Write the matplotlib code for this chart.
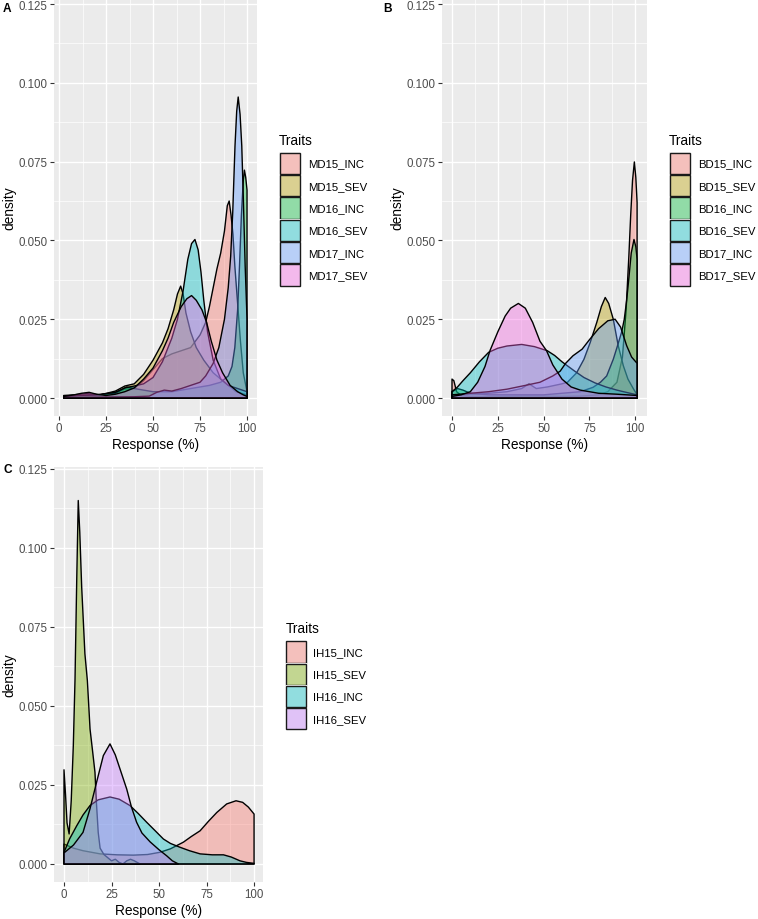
import matplotlib
matplotlib.use("Agg")
import matplotlib.pyplot as plt
import matplotlib.colors as mcolors
from matplotlib.patches import Rectangle

plt.rcParams['font.family'] = ['Liberation Sans', 'DejaVu Sans']

W, H, DPI = 758, 920, 100

# ---------------- Panel A (MD traits) ----------------
A_NAMES = ["MD15_INC", "MD15_SEV", "MD16_INC", "MD16_SEV", "MD17_INC", "MD17_SEV"]
A_COLORS = ["#F8766D", "#B79F00", "#00BA38", "#00BFC4", "#619CFF", "#F564E3"]

MD15_INC_X = [2.5, 8, 15, 22, 30, 35, 40, 45, 50, 55, 60, 65, 70, 75, 78, 80, 82, 84, 86, 88, 89.5, 90.5, 91.5, 92.5, 93.5, 95, 96.5, 98, 100]
MD15_INC_Y = [0.0005, 0.0008, 0.0008, 0.001, 0.0018, 0.0028, 0.003, 0.0055, 0.009, 0.0125, 0.014, 0.015, 0.016, 0.02, 0.024, 0.029, 0.035, 0.041, 0.046, 0.053, 0.061, 0.0625, 0.058, 0.052, 0.042, 0.030, 0.018, 0.008, 0.002]

MD15_SEV_X = [2.5, 8, 15, 22, 30, 35, 40, 45, 50, 55, 58, 61, 63, 64.7, 66, 67.5, 70, 73, 77, 82, 88, 94, 100]
MD15_SEV_Y = [0.0008, 0.001, 0.0014, 0.001, 0.0022, 0.0038, 0.0045, 0.0075, 0.012, 0.0175, 0.022, 0.028, 0.033, 0.0355, 0.033, 0.027, 0.021, 0.016, 0.012, 0.008, 0.005, 0.002, 0.001]

MD16_INC_X = [2.5, 10, 20, 30, 36, 40, 50, 60, 70, 80, 86, 90, 92, 93.5, 95, 96, 97, 98, 98.6, 99.3, 100]
MD16_INC_Y = [0.0005, 0.0008, 0.001, 0.0015, 0.0035, 0.003, 0.002, 0.002, 0.003, 0.004, 0.005, 0.007, 0.01, 0.016, 0.028, 0.042, 0.058, 0.069, 0.0723, 0.070, 0.066]

MD16_SEV_X = [2.5, 10, 20, 30, 35, 40, 45, 50, 55, 60, 63, 66, 68.5, 70.5, 72.3, 74, 75.5, 77, 79, 82, 86, 90, 95, 100]
MD16_SEV_Y = [0.0005, 0.0008, 0.001, 0.0018, 0.0032, 0.0038, 0.0045, 0.0065, 0.0115, 0.019, 0.025, 0.034, 0.044, 0.049, 0.0503, 0.047, 0.04, 0.031, 0.021, 0.012, 0.006, 0.004, 0.003, 0.002]

MD17_INC_X = [2.5, 20, 40, 48, 52, 56, 60, 65, 70, 75, 78, 82, 85, 88, 90, 91.3, 92.4, 93.6, 94.5, 95.3, 96.3, 97.2, 98, 99, 100]
MD17_INC_Y = [0.0002, 0.0003, 0.0004, 0.0006, 0.0018, 0.0025, 0.0022, 0.003, 0.004, 0.005, 0.007, 0.011, 0.016, 0.025, 0.035, 0.045, 0.059, 0.080, 0.091, 0.0955, 0.090, 0.080, 0.064, 0.042, 0.025]

MD17_SEV_X = [2.5, 8, 12, 16, 20, 25, 30, 35, 40, 45, 50, 55, 58, 61, 65, 68, 70.5, 73, 76, 78.5, 81, 84, 87, 91, 95, 98, 100]
MD17_SEV_Y = [0.0005, 0.001, 0.0015, 0.0018, 0.0012, 0.0008, 0.0012, 0.002, 0.0032, 0.006, 0.0095, 0.015, 0.019, 0.024, 0.029, 0.0315, 0.0325, 0.031, 0.028, 0.024, 0.018, 0.012, 0.008, 0.004, 0.002, 0.001, 0.0005]

# ---------------- Panel B (BD traits) ----------------
B_NAMES = ["BD15_INC", "BD15_SEV", "BD16_INC", "BD16_SEV", "BD17_INC", "BD17_SEV"]
B_COLORS = A_COLORS

BD15_INC_X = [0, 1, 2.5, 5, 10, 20, 30, 40, 50, 60, 70, 80, 85, 90, 93, 95, 96.5, 97.5, 98.5, 99.5, 100.3, 101]
BD15_INC_Y = [0.006, 0.0055, 0.002, 0.0008, 0.0005, 0.0004, 0.0005, 0.0006, 0.0006, 0.0005, 0.0006, 0.001, 0.002, 0.005, 0.013, 0.028, 0.045, 0.058, 0.069, 0.0749, 0.07, 0.062]

BD15_SEV_X = [0, 5, 10, 20, 30, 38, 42, 46, 52, 56, 60, 63, 68, 72, 75.4, 79, 81.5, 83.6, 85.5, 88, 90.7, 93.5, 96, 98.9, 101]
BD15_SEV_Y = [0.001, 0.001, 0.0012, 0.0015, 0.002, 0.003, 0.0045, 0.003, 0.0035, 0.004, 0.0045, 0.005, 0.008, 0.0123, 0.0176, 0.024, 0.029, 0.0319, 0.030, 0.025, 0.0166, 0.0102, 0.006, 0.003, 0.001]

BD16_INC_X = [0, 3, 6, 10, 20, 30, 40, 50, 60, 70, 77, 81, 84.4, 88, 90, 92.6, 94, 95.3, 96.5, 97.8, 99.3, 100.3, 101]
BD16_INC_Y = [0.002, 0.003, 0.0025, 0.0015, 0.001, 0.001, 0.001, 0.001, 0.0015, 0.002, 0.0034, 0.005, 0.007, 0.0123, 0.016, 0.021, 0.025, 0.031, 0.038, 0.046, 0.0503, 0.048, 0.044]

BD16_SEV_X = [0, 3, 6, 10, 15, 20, 25, 30, 38, 45, 52, 56, 60, 63, 67, 72, 78, 84, 90, 95, 101]
BD16_SEV_Y = [0.002, 0.0035, 0.0055, 0.008, 0.0115, 0.0145, 0.0158, 0.0165, 0.017, 0.0163, 0.015, 0.0135, 0.0115, 0.0102, 0.0085, 0.0065, 0.0048, 0.0035, 0.0025, 0.0018, 0.001]

BD17_INC_X = [0, 10, 20, 30, 40, 48, 55, 59, 62, 66, 71, 75, 80, 85, 89, 92, 95.3, 98, 101]
BD17_INC_Y = [0.001, 0.0015, 0.002, 0.0028, 0.004, 0.005, 0.007, 0.0085, 0.011, 0.0134, 0.0155, 0.0185, 0.022, 0.0245, 0.025, 0.0225, 0.0166, 0.013, 0.011]

BD17_SEV_X = [0, 5, 10, 14, 18, 20.7, 25, 29, 32, 36.2, 40, 44, 48, 51.6, 55, 60, 65, 70, 80, 90, 101]
BD17_SEV_Y = [0.0005, 0.001, 0.002, 0.005, 0.010, 0.015, 0.021, 0.026, 0.0285, 0.030, 0.0285, 0.024, 0.018, 0.015, 0.0105, 0.006, 0.0035, 0.0025, 0.0015, 0.0012, 0.0008]

# ---------------- Panel C (IH traits) ----------------
C_NAMES = ["IH15_INC", "IH15_SEV", "IH16_INC", "IH16_SEV"]
C_COLORS = ["#F8766D", "#7CAE00", "#00BFC4", "#C77CFF"]

IH15_INC_X = [0, 5, 10, 19, 28, 36.5, 44, 50.5, 56, 62.8, 67, 71.6, 76, 80.4, 85.6, 90.5, 94, 97, 100]
IH15_INC_Y = [0.0063, 0.005, 0.0042, 0.0032, 0.0029, 0.0028, 0.003, 0.0037, 0.0048, 0.0069, 0.0087, 0.0105, 0.0135, 0.0163, 0.019, 0.020, 0.0195, 0.018, 0.0158]

IH15_SEV_X = [0, 0.8, 1.6, 2.7, 3.8, 4.9, 5.8, 6.7, 7.5, 8.3, 9.3, 11, 12.3, 13.7, 15.1, 16.3, 17, 18, 19, 21, 23, 25, 27, 29, 31, 33, 35, 37, 40]
IH15_SEV_Y = [0.0298, 0.022, 0.013, 0.0095, 0.02, 0.0374, 0.0585, 0.09, 0.115, 0.105, 0.0877, 0.0665, 0.058, 0.0427, 0.0354, 0.029, 0.02, 0.01, 0.005, 0.003, 0.002, 0.001, 0.0015, 0.0005, 0.0, 0.001, 0.0015, 0.001, 0.0]

IH16_INC_X = [0, 3, 6.7, 10, 13.7, 18, 24.2, 29, 34.7, 39, 43.5, 48, 52.3, 56, 61, 66, 71.6, 78, 83.9, 88, 92.6, 96, 100]
IH16_INC_Y = [0.0037, 0.008, 0.0121, 0.0155, 0.0185, 0.0203, 0.0212, 0.0205, 0.0185, 0.016, 0.0132, 0.0105, 0.0079, 0.0065, 0.0053, 0.0042, 0.0032, 0.0029, 0.0029, 0.0022, 0.001, 0.0005, 0.0002]

IH16_SEV_X = [0, 5, 10, 13.7, 17.2, 20.7, 24.2, 27, 29.5, 33, 35.5, 38.2, 41, 45.3, 50, 54, 57, 60.2]
IH16_SEV_Y = [0.0035, 0.006, 0.01, 0.0175, 0.026, 0.0343, 0.038, 0.0345, 0.030, 0.0237, 0.018, 0.0132, 0.0098, 0.007, 0.0045, 0.0026, 0.001, 0.0]

X_TICKS = [0, 25, 50, 75, 100]
X_LABELS = ["0", "25", "50", "75", "100"]
Y_TICKS = [0.0, 0.025, 0.05, 0.075, 0.1, 0.125]
Y_LABELS = ["0.000", "0.025", "0.050", "0.075", "0.100", "0.125"]

fig = plt.figure(figsize=(W / DPI, H / DPI), dpi=DPI)


def fx(px):
    return px / W


def fy(py):
    return 1 - py / H


def add_ax(l, t, r, b):
    return fig.add_axes([l / W, 1 - b / H, (r - l) / W, (b - t) / H])


def panel(ax, curves, colors, xlim, ylim):
    ax.set_facecolor('#EBEBEB')
    for (xv, yv), c in zip(curves, colors):
        xs = [xv[0]] + list(xv) + [xv[-1]]
        ys = [0.0] + list(yv) + [0.0]
        ax.fill(xs, ys, facecolor=mcolors.to_rgba(c, 0.4), edgecolor='black',
                linewidth=1.0, zorder=3, joinstyle='round')
    ax.set_xlim(*xlim)
    ax.set_ylim(*ylim)
    ax.set_xticks(X_TICKS)
    ax.set_xticklabels(X_LABELS)
    ax.set_yticks(Y_TICKS)
    ax.set_yticklabels(Y_LABELS)
    ax.set_xticks([12.5, 37.5, 62.5, 87.5], minor=True)
    ax.set_yticks([0.0125, 0.0375, 0.0625, 0.0875, 0.1125], minor=True)
    ax.grid(which='major', color='white', linewidth=1.0, zorder=0)
    ax.grid(which='minor', color='white', linewidth=0.5, zorder=0)
    ax.set_axisbelow(True)
    for s in ax.spines.values():
        s.set_visible(False)
    ax.tick_params(which='major', length=2.6, width=0.8, color='#333333',
                   labelcolor='#4D4D4D', labelsize=8.3, pad=2.0)
    ax.tick_params(which='minor', length=0)


def legend(names, colors, key_left, key_top, label_x):
    fig.text(fx(key_left), fy(key_top - 8.5), "Traits", fontsize=9.9,
             color='black', ha='left', va='baseline')
    pitch = 22.3
    kw = 21
    for i, (n, c) in enumerate(zip(names, colors)):
        top = key_top + i * pitch
        fig.add_artist(Rectangle((fx(key_left), fy(top + pitch)), kw / W, pitch / H,
                                 transform=fig.transFigure, facecolor='#F2F2F2',
                                 edgecolor='none'))
        fig.add_artist(Rectangle((fx(key_left + 0.5), fy(top + pitch - 0.5)), (kw - 1) / W, (pitch - 1) / H,
                                 transform=fig.transFigure, facecolor=mcolors.to_rgba(c, 0.4),
                                 edgecolor='#1a1a1a', linewidth=1.0))
        fig.text(fx(label_x), fy(top + pitch / 2), n, fontsize=8.2, color='black',
                 ha='left', va='center')


# Panel A
axA = add_ax(54, 0, 257, 417)
panel(axA,
      [(MD15_INC_X, MD15_INC_Y), (MD15_SEV_X, MD15_SEV_Y), (MD16_INC_X, MD16_INC_Y),
       (MD16_SEV_X, MD16_SEV_Y), (MD17_INC_X, MD17_INC_Y), (MD17_SEV_X, MD17_SEV_Y)],
      A_COLORS, (-2.66, 105.3), (-0.00571, 0.1266))
legend(A_NAMES, A_COLORS, 279, 153.3, 308)

# Panel B
axB = add_ax(442, 0, 647, 417)
panel(axB,
      [(BD15_INC_X, BD15_INC_Y), (BD15_SEV_X, BD15_SEV_Y), (BD16_INC_X, BD16_INC_Y),
       (BD16_SEV_X, BD16_SEV_Y), (BD17_INC_X, BD17_INC_Y), (BD17_SEV_X, BD17_SEV_Y)],
      B_COLORS, (-5.46, 106.4), (-0.00571, 0.1266))
legend(B_NAMES, B_COLORS, 669, 153.3, 698)

# Panel C
axC = add_ax(54, 468, 263, 883)
panel(axC,
      [(IH15_INC_X, IH15_INC_Y), (IH15_SEV_X, IH15_SEV_Y), (IH16_INC_X, IH16_INC_Y),
       (IH16_SEV_X, IH16_SEV_Y)],
      C_COLORS, (-5.26, 104.7), (-0.0057, 0.1256))
legend(C_NAMES, C_COLORS, 285.7, 641.7, 313)

# axis titles
for cx, base in [((54 + 257) / 2, 449), ((442 + 647) / 2, 449), ((54 + 263) / 2, 915)]:
    fig.text(fx(cx), fy(base), "Response (%)", fontsize=9.9, ha='center', va='baseline')
for cx, cy in [(9, 208.5), (397, 208.5), (9, 675.5)]:
    fig.text(fx(cx), fy(cy), "density", fontsize=9.9, ha='center', va='center', rotation=90)

# panel letters
for lx, ly, t in [(3, 12, "A"), (383, 12, "B"), (3, 473, "C")]:
    fig.text(fx(lx), fy(ly), t, fontsize=8.6, fontweight='bold', ha='left', va='baseline')

fig.savefig("out.png", dpi=DPI)
